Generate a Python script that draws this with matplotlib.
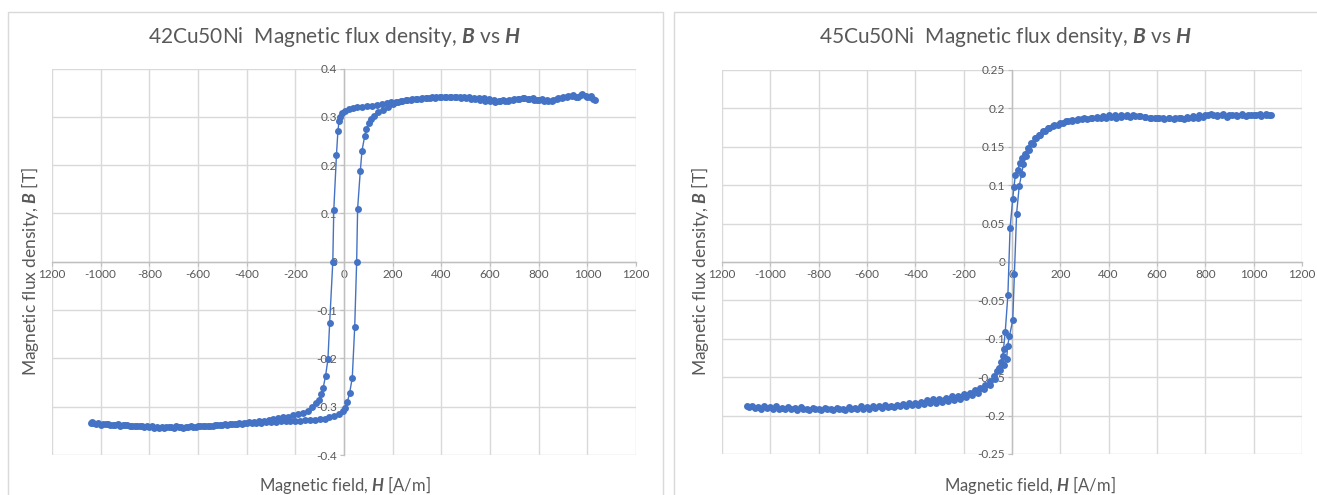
import matplotlib
matplotlib.use("Agg")
import matplotlib.pyplot as plt
from matplotlib.patches import Rectangle

plt.rcParams['font.family'] = ['Lato', 'DejaVu Sans']
plt.rcParams['mathtext.fontset'] = 'custom'
plt.rcParams['mathtext.rm'] = 'Lato'
plt.rcParams['mathtext.bf'] = 'Lato:italic:bold'
plt.rcParams['axes.unicode_minus'] = False

# ---- 42Cu50Ni ----
h_down_42 = [1030, 1010, 995, 975, 955, 935, 915, 895, 875, 855, 835, 815, 795, 775, 755,
             735, 715, 695, 675, 655, 635, 615, 595, 575, 555, 535, 515, 495, 475, 455,
             435, 415, 395, 375, 355, 335, 315, 295, 275, 255, 235, 215, 195, 175, 155,
             135, 115, 95, 75, 55, 35, 20, 5, -8, -15, -20, -25, -31, -42, -46, -59, -66,
             -76, -86, -93, -103, -115, -130, -150, -170, -190, -210, -230, -250, -270,
             -290, -310, -330, -350, -370, -390, -410, -430, -450, -470, -490, -510, -530,
             -550, -570, -590, -610, -630, -650, -670, -690, -710, -730, -750, -770, -790,
             -810, -830, -850, -870, -890, -910, -930, -950, -970, -990, -1010, -1030, -1040]
b_down_42 = [0.335, 0.340, 0.343, 0.345, 0.341, 0.344, 0.341, 0.338, 0.336, 0.333, 0.334,
             0.336, 0.335, 0.338, 0.337, 0.338, 0.336, 0.334, 0.333, 0.334, 0.333, 0.335,
             0.336, 0.338, 0.338, 0.339, 0.341, 0.340, 0.341, 0.342, 0.341, 0.341, 0.340,
             0.339, 0.339, 0.338, 0.337, 0.336, 0.335, 0.334, 0.333, 0.331, 0.330, 0.328,
             0.327, 0.325, 0.323, 0.322, 0.321, 0.320, 0.318, 0.316, 0.313, 0.308, 0.300,
             0.292, 0.271, 0.221, 0.107, 0.000, -0.127, -0.202, -0.237, -0.262, -0.274,
             -0.286, -0.293, -0.300, -0.308, -0.313, -0.316, -0.318, -0.321, -0.322, -0.324,
             -0.326, -0.327, -0.329, -0.330, -0.331, -0.332, -0.333, -0.334, -0.335, -0.335,
             -0.336, -0.337, -0.338, -0.339, -0.340, -0.341, -0.342, -0.341, -0.343, -0.342,
             -0.341, -0.342, -0.343, -0.343, -0.342, -0.341, -0.340, -0.340, -0.339, -0.339,
             -0.338, -0.337, -0.336, -0.337, -0.335, -0.336, -0.334, -0.333, -0.334]
h_up_42 = [-1035, -1020, -1000, -980, -960, -940, -920, -900, -880, -860, -840, -820, -800,
           -780, -760, -740, -720, -700, -680, -660, -640, -620, -600, -580, -560, -540, -520,
           -500, -480, -460, -440, -420, -400, -380, -360, -340, -320, -300, -280, -260, -240,
           -220, -200, -180, -160, -140, -120, -100, -80, -60, -40, -20, -5, 3, 14, 23, 34,
           44, 52, 56, 67, 74, 85, 92, 101, 113, 125, 140, 160, 180, 200, 220, 240, 260, 280,
           300, 320, 340, 360, 380, 400, 420, 440, 460, 480, 500, 520, 540, 560, 580, 600,
           620, 640, 660, 680, 700, 720, 740, 760, 780, 800, 820, 840, 860, 880, 900, 920,
           940, 960, 980, 1000, 1015, 1025]
b_up_42 = [-0.332, -0.335, -0.337, -0.336, -0.338, -0.337, -0.339, -0.338, -0.340, -0.341,
           -0.341, -0.342, -0.343, -0.344, -0.345, -0.344, -0.343, -0.344, -0.343, -0.344,
           -0.342, -0.343, -0.341, -0.340, -0.339, -0.339, -0.338, -0.337, -0.337, -0.336,
           -0.335, -0.335, -0.334, -0.334, -0.333, -0.333, -0.332, -0.331, -0.331, -0.330,
           -0.330, -0.329, -0.329, -0.329, -0.328, -0.328, -0.327, -0.326, -0.325, -0.322,
           -0.320, -0.316, -0.308, -0.303, -0.290, -0.272, -0.240, -0.135, 0.000, 0.110,
           0.188, 0.230, 0.260, 0.275, 0.287, 0.295, 0.302, 0.309, 0.315, 0.321, 0.326,
           0.330, 0.333, 0.335, 0.336, 0.337, 0.338, 0.339, 0.340, 0.340, 0.341, 0.342,
           0.341, 0.340, 0.339, 0.339, 0.337, 0.336, 0.334, 0.333, 0.332, 0.331, 0.332,
           0.333, 0.335, 0.336, 0.337, 0.339, 0.337, 0.335, 0.334, 0.333, 0.333, 0.335,
           0.338, 0.340, 0.343, 0.346, 0.342, 0.347, 0.341, 0.344, 0.337]

# ---- 45Cu50Ni ----
h_down_45 = [1070, 1050, 1030, 1010, 990, 970, 950, 930, 910, 890, 870, 850, 830, 810, 790,
             770, 750, 730, 710, 690, 670, 650, 630, 610, 590, 570, 550, 530, 510, 490, 470,
             450, 430, 410, 390, 370, 350, 330, 310, 290, 270, 250, 230, 210, 190, 170, 150,
             130, 110, 95, 80, 65, 52, 42, 33, 23, 14, 8, 3, -8, -17, -28, -35, -39, -46, -55,
             -62, -75, -90, -110, -132, -155, -175, -200, -225, -250, -275, -300, -325, -350,
             -375, -400, -425, -450, -475, -500, -525, -550, -575, -600, -625, -650, -675,
             -700, -725, -750, -775, -800, -825, -850, -875, -900, -925, -950, -975, -1000,
             -1025, -1050, -1075, -1095]
b_down_45 = [0.191, 0.193, 0.190, 0.192, 0.191, 0.190, 0.192, 0.190, 0.191, 0.189, 0.191,
             0.190, 0.192, 0.191, 0.189, 0.188, 0.187, 0.188, 0.186, 0.187, 0.186, 0.187,
             0.186, 0.188, 0.187, 0.188, 0.189, 0.190, 0.190, 0.189, 0.190, 0.189, 0.188,
             0.189, 0.188, 0.187, 0.188, 0.187, 0.186, 0.186, 0.185, 0.184, 0.183, 0.181,
             0.179, 0.177, 0.174, 0.170, 0.166, 0.161, 0.155, 0.148, 0.141, 0.135, 0.129,
             0.120, 0.113, 0.098, 0.082, 0.044, -0.043, -0.091, -0.113, -0.123, -0.130,
             -0.138, -0.142, -0.149, -0.155, -0.160, -0.164, -0.167, -0.170, -0.172, -0.174,
             -0.175, -0.177, -0.178, -0.179, -0.180, -0.182, -0.183, -0.184, -0.185, -0.186,
             -0.187, -0.186, -0.188, -0.187, -0.189, -0.188, -0.190, -0.189, -0.191, -0.190,
             -0.191, -0.190, -0.191, -0.190, -0.191, -0.189, -0.190, -0.189, -0.190, -0.188,
             -0.189, -0.188, -0.189, -0.187, -0.188]
h_up_45 = [-1090, -1065, -1040, -1015, -990, -965, -940, -915, -890, -865, -840, -815, -790,
           -765, -740, -715, -690, -665, -640, -615, -590, -565, -540, -515, -490, -465, -440,
           -415, -390, -365, -340, -315, -290, -265, -240, -215, -190, -165, -140, -115, -90,
           -70, -50, -35, -22, -18, -11, 3, 10, 19, 30, 40, 47, 58, 70, 85, 100, 115, 135,
           155, 175, 200, 225, 250, 275, 300, 325, 350, 375, 400, 425, 450, 475, 500, 525,
           550, 575, 600, 625, 650, 675, 700, 725, 750, 775, 800, 825, 850, 875, 900, 925,
           950, 975, 1000, 1025, 1050, 1065]
b_up_45 = [-0.189, -0.190, -0.191, -0.190, -0.192, -0.191, -0.192, -0.191, -0.193, -0.192,
           -0.193, -0.192, -0.193, -0.192, -0.193, -0.192, -0.193, -0.192, -0.192, -0.191,
           -0.191, -0.190, -0.190, -0.189, -0.189, -0.188, -0.187, -0.186, -0.186, -0.185,
           -0.184, -0.183, -0.182, -0.181, -0.180, -0.178, -0.176, -0.173, -0.170, -0.166,
           -0.160, -0.152, -0.140, -0.134, -0.126, -0.109, -0.097, -0.076, -0.015, 0.063,
           0.099, 0.115, 0.127, 0.138, 0.146, 0.154, 0.161, 0.166, 0.171, 0.175, 0.178,
           0.181, 0.183, 0.185, 0.186, 0.187, 0.188, 0.189, 0.190, 0.191, 0.192, 0.191,
           0.192, 0.191, 0.190, 0.189, 0.188, 0.187, 0.188, 0.187, 0.188, 0.188, 0.189,
           0.190, 0.191, 0.192, 0.193, 0.192, 0.193, 0.191, 0.192, 0.193, 0.191, 0.192,
           0.193, 0.191, 0.192]

x_ticks = [-1200, -1000, -800, -600, -400, -200, 0, 200, 400, 600, 800, 1000, 1200]
x_ticklabels = ['1200', '-1000', '-800', '-600', '-400', '-200', '0', '200', '400', '600',
                '800', '1000', '1200']
y_ticks_42 = [-0.4, -0.3, -0.2, -0.1, 0, 0.1, 0.2, 0.3, 0.4]
y_ticklabels_42 = ['-0.4', '-0.3', '-0.2', '-0.1', '0', '0.1', '0.2', '0.3', '0.4']
y_ticks_45 = [-0.25, -0.2, -0.15, -0.1, -0.05, 0, 0.05, 0.1, 0.15, 0.2, 0.25]
y_ticklabels_45 = ['-0.25', '-0.2', '-0.15', '-0.1', '-0.05', '0', '0.05', '0.1', '0.15',
                   '0.2', '0.25']

BLUE = '#4472C4'
TXT = '#595959'
GRID = '#D9D9D9'
AXIS = '#BFBFBF'

W, H = 1317, 495
fig = plt.figure(figsize=(W / 100, H / 100), dpi=100)


def px_axes(x0, y0, x1, y1):
    return fig.add_axes([x0 / W, 1 - y1 / H, (x1 - x0) / W, (y1 - y0) / H])


def style(ax, yticks, ylabels, ylim):
    ax.set_xlim(-1200, 1200)
    ax.set_ylim(*ylim)
    ax.set_xticks(x_ticks)
    ax.set_xticklabels(x_ticklabels)
    ax.set_yticks(yticks)
    ax.set_yticklabels(ylabels)
    ax.grid(True, color=GRID, linewidth=1)
    ax.set_axisbelow(True)
    for s in ['top', 'right']:
        ax.spines[s].set_visible(False)
    ax.spines['left'].set_position(('data', 0))
    ax.spines['bottom'].set_position(('data', 0))
    for s in ['left', 'bottom']:
        ax.spines[s].set_color(AXIS)
        ax.spines[s].set_linewidth(1)
    ax.tick_params(colors=AXIS, labelcolor=TXT, labelsize=8.5, length=3, pad=2)
    ax.patch.set_alpha(0)


def draw(ax, h1, b1, h2, b2):
    ax.plot(h1, b1, '-o', color=BLUE, lw=1.0, ms=5, mew=0, zorder=3)
    ax.plot(h2, b2, '-o', color=BLUE, lw=1.0, ms=5, mew=0, zorder=3)


# panel borders
fig.patches.append(Rectangle((8 / W, -0.05), (663 - 8) / W, 1 - 12 / H + 0.05,
                             transform=fig.transFigure, fill=False, edgecolor=GRID, lw=1))
fig.patches.append(Rectangle((674 / W, -0.05), (1330 - 674) / W, 1 - 12 / H + 0.05,
                             transform=fig.transFigure, fill=False, edgecolor=GRID, lw=1))

ax1 = px_axes(52, 68.5, 636, 455)
style(ax1, y_ticks_42, y_ticklabels_42, (-0.4, 0.4))
draw(ax1, h_down_42, b_down_42, h_up_42, b_up_42)

ax2 = px_axes(722, 70, 1302, 454)
style(ax2, y_ticks_45, y_ticklabels_45, (-0.25, 0.25))
draw(ax2, h_down_45, b_down_45, h_up_45, b_up_45)

fig.text(334 / W, 1 - 37 / H, r'42Cu50Ni  Magnetic flux density, $\mathbf{B}$ vs $\mathbf{H}$',
         ha='center', va='center', fontsize=15, color=TXT)
fig.text(1005 / W, 1 - 37 / H, r'45Cu50Ni  Magnetic flux density, $\mathbf{B}$ vs $\mathbf{H}$',
         ha='center', va='center', fontsize=15, color=TXT)

fig.text(30 / W, 1 - 272 / H, r'Magnetic flux density, $\mathbf{B}$ [T]', rotation=90,
         ha='center', va='center', fontsize=12.5, color=TXT)
fig.text(700 / W, 1 - 272 / H, r'Magnetic flux density, $\mathbf{B}$ [T]', rotation=90,
         ha='center', va='center', fontsize=12.5, color=TXT)
fig.text(345 / W, 1 - 485 / H, r'Magnetic field, $\mathbf{H}$ [A/m]',
         ha='center', va='center', fontsize=12, color=TXT)
fig.text(1030 / W, 1 - 485 / H, r'Magnetic field, $\mathbf{H}$ [A/m]',
         ha='center', va='center', fontsize=12, color=TXT)

fig.savefig('out.png', dpi=100)
